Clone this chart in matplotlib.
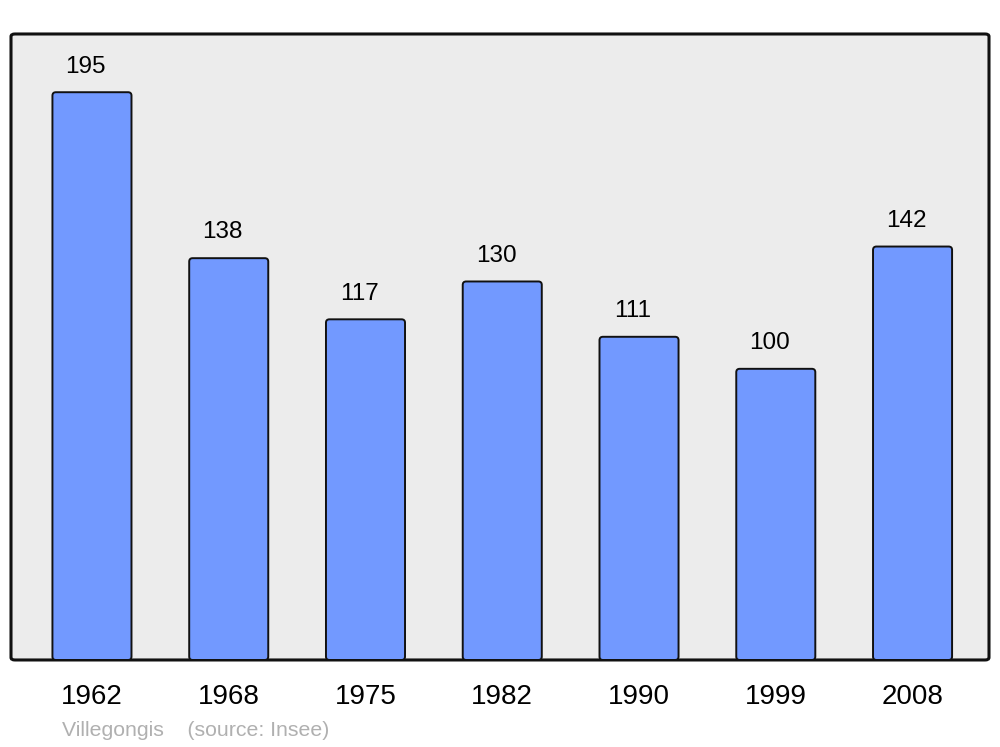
import matplotlib
matplotlib.use('Agg')
import matplotlib.pyplot as plt
from matplotlib.patches import FancyBboxPatch

plt.rcParams['font.family'] = ['Liberation Sans', 'DejaVu Sans']

years = ['1962', '1968', '1975', '1982', '1990', '1999', '2008']
population = [195, 138, 117, 130, 111, 100, 142]
commune = 'Villegongis'
source = '(source: Insee)'

fig = plt.figure(figsize=(10, 7.47), dpi=100)
ax = fig.add_axes([0.011, 0.1165, 0.978, 0.838])
ax.set_xlim(-0.592, 6.559)
ax.set_ylim(0, 215)
ax.patch.set_visible(False)
for s in ax.spines.values():
    s.set_visible(False)

# rounded panel background
panel = FancyBboxPatch((0, 0), 1, 1, boxstyle="round,pad=0,rounding_size=0.004",
                       transform=ax.transAxes, facecolor='#ececec',
                       edgecolor='#111111', linewidth=2.2, zorder=0, clip_on=False)
ax.add_patch(panel)

x = list(range(len(years)))
w = 0.578
# aspect between y units and x units per pixel so the corners stay round
aspect = (215 / (0.838 * 747)) / (7.151 / (0.978 * 1000))
for xi, v in zip(x, population):
    bar = FancyBboxPatch((xi - w / 2, 0), w, v,
                         boxstyle="round,pad=0,rounding_size=0.025",
                         mutation_aspect=aspect, facecolor='#7299ff',
                         edgecolor='#111111', linewidth=1.4, zorder=2)
    ax.add_patch(bar)
    ax.annotate(str(v), (xi, v), xytext=(-4.5, 18.5), textcoords='offset points',
                ha='center', va='center', fontsize=17.5)

ax.set_xticks(x)
ax.set_xticklabels(years, fontsize=20)
ax.tick_params(axis='x', length=0, pad=17)
ax.set_yticks([])

fig.text(0.062, 0.0225, commune + '    ' + source, fontsize=15.3, color='#b0b0b0',
         ha='left', va='center')

fig.savefig('out.png', dpi=100)
